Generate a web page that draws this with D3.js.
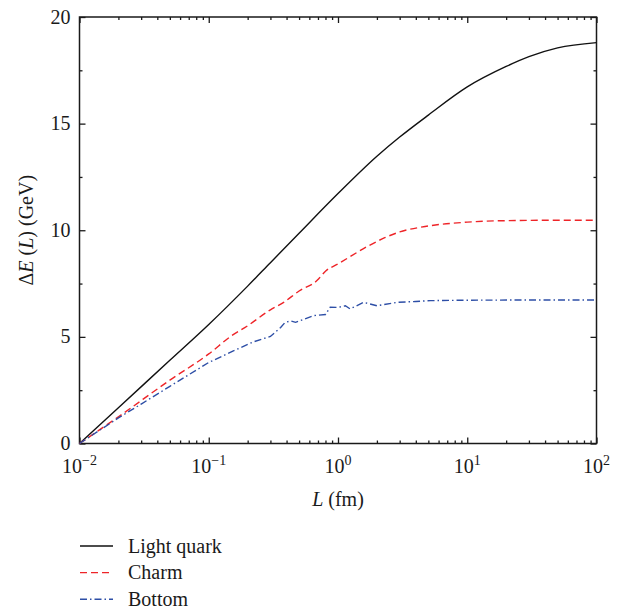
<!DOCTYPE html>
<html>
<head>
<meta charset="utf-8">
<script src="https://cdn.jsdelivr.net/npm/d3@7/dist/d3.min.js"></script>
<style>
  html, body { margin: 0; padding: 0; background: #fff; }
  svg text { font-family: "Liberation Serif", "DejaVu Serif", serif; fill: #1a1a1a; }
</style>
</head>
<body>
<svg id="chart" width="623" height="610"></svg>
<script>
// Energy loss ΔE(L) versus path length L for three quark flavours
const lightL = [0.01, 0.02, 0.05, 0.1, 0.2, 0.3, 0.5, 1, 2, 3, 5, 10, 20, 30, 50, 100];
const lightE = [0, 1.68, 3.9, 5.58, 7.38, 8.48, 9.86, 11.72, 13.47, 14.37, 15.4, 16.72, 17.68, 18.14, 18.55, 18.8];

const charmL = [0.01, 0.02, 0.05, 0.1, 0.15, 0.2, 0.3, 0.38, 0.5, 0.69, 0.8, 1.0, 1.7, 2.3, 3, 5, 10, 20, 50, 100];
const charmE = [0, 1.25, 2.97, 4.2, 5.05, 5.52, 6.27, 6.62, 7.15, 7.65, 8.08, 8.42, 9.25, 9.65, 9.92, 10.2, 10.38, 10.45, 10.47, 10.47];

const bottomL = [0.01, 0.02, 0.03, 0.05, 0.1, 0.155, 0.22, 0.3, 0.36, 0.39, 0.43, 0.47, 0.65, 0.8, 0.87, 1.0, 1.14, 1.24, 1.58, 2.0, 2.86, 4, 5.2, 10, 30, 100];
const bottomE = [0, 1.2, 1.85, 2.68, 3.8, 4.34, 4.76, 5.02, 5.44, 5.68, 5.75, 5.68, 6.0, 6.05, 6.39, 6.38, 6.46, 6.31, 6.62, 6.46, 6.62, 6.66, 6.7, 6.72, 6.73, 6.73];

const xMajor = [0.01, 0.1, 1, 10, 100];
const xExponents = ["\u22122", "\u22121", "0", "1", "2"];
const yMajor = [0, 5, 10, 15, 20];
const yMinor = [2.5, 7.5, 12.5, 17.5];

const seriesNames = ["Light quark", "Charm", "Bottom"];
const seriesColors = ["#111111", "#ee2428", "#2d4ea6"];
const seriesDash = [null, "7,4", "7,3,1.5,3"];

const svg = d3.select("#chart");
const plotLeft = 79.5, plotRight = 596.5, plotTop = 17, plotBottom = 443.5;

const x = d3.scaleLog().domain([0.01, 100]).range([plotLeft, plotRight]);
const y = d3.scaleLinear().domain([0, 20]).range([plotBottom, plotTop]);

const xMinor = x.ticks().filter(v => !xMajor.some(m => Math.abs(m - v) < 1e-9));

// Axes: ticks point inward, mirrored on top and right
function styleAxis(g) {
  g.select(".domain").remove();
  g.selectAll(".tick line").attr("stroke", "#1a1a1a").attr("stroke-width", 1.3);
}
svg.append("g").attr("transform", `translate(0,${plotBottom})`)
  .call(d3.axisBottom(x).tickValues(xMajor).tickSize(-6).tickFormat("")).call(styleAxis);
svg.append("g").attr("transform", `translate(0,${plotBottom})`)
  .call(d3.axisBottom(x).tickValues(xMinor).tickSize(-3).tickFormat("")).call(styleAxis);
svg.append("g").attr("transform", `translate(0,${plotTop})`)
  .call(d3.axisTop(x).tickValues(xMajor).tickSize(-6).tickFormat("")).call(styleAxis);
svg.append("g").attr("transform", `translate(0,${plotTop})`)
  .call(d3.axisTop(x).tickValues(xMinor).tickSize(-3).tickFormat("")).call(styleAxis);
svg.append("g").attr("transform", `translate(${plotLeft},0)`)
  .call(d3.axisLeft(y).tickValues(yMajor).tickSize(-6).tickFormat("")).call(styleAxis);
svg.append("g").attr("transform", `translate(${plotLeft},0)`)
  .call(d3.axisLeft(y).tickValues(yMinor).tickSize(-3).tickFormat("")).call(styleAxis);
svg.append("g").attr("transform", `translate(${plotRight},0)`)
  .call(d3.axisRight(y).tickValues(yMajor).tickSize(-6).tickFormat("")).call(styleAxis);
svg.append("g").attr("transform", `translate(${plotRight},0)`)
  .call(d3.axisRight(y).tickValues(yMinor).tickSize(-3).tickFormat("")).call(styleAxis);

// Frame
svg.append("rect")
  .attr("x", plotLeft).attr("y", plotTop)
  .attr("width", plotRight - plotLeft).attr("height", plotBottom - plotTop)
  .attr("fill", "none").attr("stroke", "#1a1a1a").attr("stroke-width", 1.5);

// Tick labels
svg.append("g").selectAll("text").data(yMajor).join("text")
  .attr("x", plotLeft - 9).attr("y", d => y(d) + 6.5)
  .attr("text-anchor", "end").attr("font-size", 20)
  .text(d => d);

const xl = svg.append("g").selectAll("text").data(xMajor).join("text")
  .attr("x", d => x(d)).attr("y", 473)
  .attr("text-anchor", "middle").attr("font-size", 20);
xl.append("tspan").text("10");
xl.append("tspan").attr("dy", -8).attr("font-size", 14).text((d, i) => xExponents[i]);

// Axis titles
const xt = svg.append("text").attr("x", x(1)).attr("y", 506)
  .attr("text-anchor", "middle").attr("font-size", 20);
xt.append("tspan").attr("font-style", "italic").text("L");
xt.append("tspan").text(" (fm)");

const yt = svg.append("text")
  .attr("transform", `translate(33,${(plotTop + plotBottom) / 2}) rotate(-90)`)
  .attr("text-anchor", "middle").attr("font-size", 20);
yt.append("tspan").text("\u0394");
yt.append("tspan").attr("font-style", "italic").text("E");
yt.append("tspan").text(" (");
yt.append("tspan").attr("font-style", "italic").text("L");
yt.append("tspan").text(") (GeV)");

// Curves
const series = [
  { L: lightL, E: lightE, curve: d3.curveMonotoneX },
  { L: charmL, E: charmE, curve: d3.curveMonotoneX },
  { L: bottomL, E: bottomE, curve: d3.curveLinear }
];
series.forEach((s, i) => {
  const pts = s.L.map((l, k) => [l, s.E[k]]);
  const line = d3.line().x(d => x(d[0])).y(d => y(d[1])).curve(s.curve);
  svg.append("path")
    .attr("d", line(pts))
    .attr("fill", "none")
    .attr("stroke", seriesColors[i])
    .attr("stroke-width", 1.4)
    .attr("stroke-dasharray", seriesDash[i]);
});

// Legend
const legend = svg.append("g").selectAll("g").data(seriesNames).join("g")
  .attr("transform", (d, i) => `translate(80,${546 + i * 26.6})`);
legend.append("line")
  .attr("x1", 0).attr("x2", 33).attr("y1", 0).attr("y2", 0)
  .attr("stroke", (d, i) => seriesColors[i])
  .attr("stroke-width", 1.4)
  .attr("stroke-dasharray", (d, i) => seriesDash[i]);
legend.append("text")
  .attr("x", 48).attr("y", 6.5)
  .attr("font-size", 20)
  .text(d => d);
</script>
</body>
</html>
